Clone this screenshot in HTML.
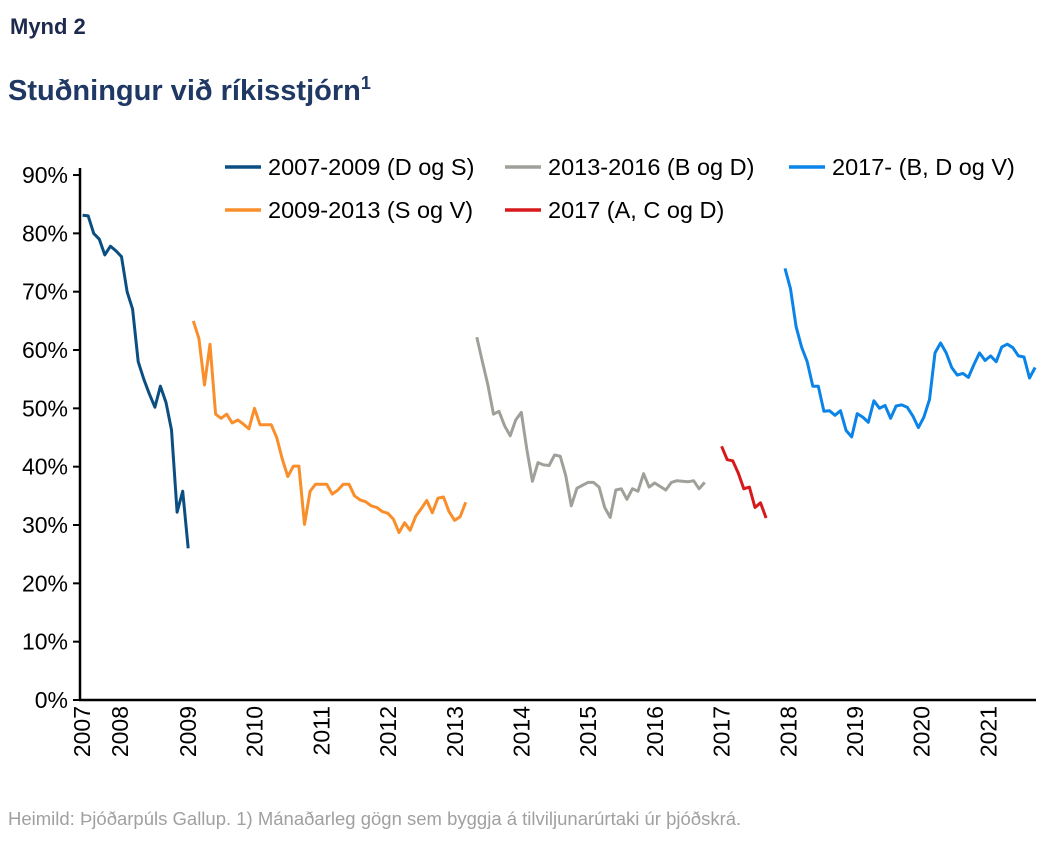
<!DOCTYPE html>
<html><head><meta charset="utf-8"><style>
body{margin:0;background:#fff;font-family:"Liberation Sans",sans-serif}
svg text{font-family:"Liberation Sans",sans-serif}
</style></head><body>
<svg id="chart" width="1052" height="840" xmlns="http://www.w3.org/2000/svg">
<text x="10" y="34" font-size="22" font-weight="bold" fill="#1d2a4d">Mynd 2</text>
<text x="8" y="100" font-size="29" font-weight="bold" fill="#1f3864">Stuðningur við ríkisstjórn<tspan font-size="18" dy="-11">1</tspan></text>
<text x="8" y="825" font-size="18.5" fill="#a0a0a0">Heimild: Þjóðarpúls Gallup. 1) Mánaðarleg gögn sem byggja á tilviljunarúrtaki úr þjóðskrá.</text>
<g id="axes"></g>
<g id="series"></g>
<g id="legend"></g>
</svg>
<script>
const yTicks=[0,10,20,30,40,50,60,70,80,90];
const years=[2007,2008,2009,2010,2011,2012,2013,2014,2015,2016,2017,2018,2019,2020,2021];
const seriesNames=["2007-2009 (D og S)","2009-2013 (S og V)","2013-2016 (B og D)","2017 (A, C og D)","2017- (B, D og V)"];
const seriesColors=["#0b4f82","#f98e2b","#a0a09a","#d7191c","#0a84e8"];
const seriesStart=[2007.42,2009.08,2013.33,2017.0,2017.95];
const s1=[83.1,83,80,79,76.3,77.8,77,76,70,67,58,55,52.5,50.2,53.8,51,46.3,32.2,35.8,26];
const s2=[65,62,54,61,49,48.3,49,47.5,48,47.3,46.5,50,47.2,47.2,47.2,45,41.3,38.3,40.1,40.1,30.1,35.8,37,37,37,35.3,36,37,37,35,34.3,34,33.3,33,32.3,32,31,28.7,30.4,29.1,31.5,32.8,34.2,32.1,34.6,34.8,32.3,30.8,31.4,33.9];
const s3=[62.2,58,54,49,49.5,47,45.3,48,49.3,43,37.5,40.7,40.3,40.2,42,41.8,38.5,33.3,36.3,36.8,37.3,37.3,36.5,33,31.3,36,36.2,34.4,36.2,35.8,38.8,36.5,37.2,36.6,36,37.3,37.6,37.5,37.4,37.6,36.2,37.3];
const s4=[43.5,41.2,41,38.9,36.2,36.5,33,33.8,31.2];
const s5=[74,70.5,64,60.5,58,53.8,53.8,49.5,49.6,48.8,49.6,46.2,45.1,49.1,48.5,47.6,51.3,50,50.5,48.3,50.4,50.6,50.2,48.7,46.7,48.5,51.5,59.5,61.2,59.5,57,55.7,56,55.3,57.5,59.5,58.2,59,58,60.5,61,60.4,59,58.8,55.2,57];
const allSeries=[s1,s2,s3,s4,s5];
const NS="http://www.w3.org/2000/svg";
function X(t){return 188+(t-2009)*66.7;}
function Y(v){return 700-v*5.833;}
function mk(tag,attrs,parent){const e=document.createElementNS(NS,tag);for(const k in attrs)e.setAttribute(k,attrs[k]);parent.appendChild(e);return e;}
const ax=document.getElementById('axes');
let l=mk('line',{x1:80,y1:168,x2:80,y2:700,stroke:'#000','stroke-width':2.5},ax);


l=mk('line',{x1:79,y1:700,x2:1036,y2:700,stroke:'#000','stroke-width':2.5},ax);


yTicks.forEach(v=>{
 const tk=mk('line',{x1:73,y1:Y(v),x2:80,y2:Y(v),stroke:'#000','stroke-width':2},ax);
 
 
 const t=mk('text',{x:68,y:Y(v)+8,'font-size':23,'text-anchor':'end',fill:'#000'},ax);
 t.textContent=v+'%';
 
 
});
years.forEach((yr,i)=>{
 const cx=i===0?82:(i===1?120:X(yr));
 const t=mk('text',{x:0,y:0,'font-size':23,'text-anchor':'end',fill:'#000',transform:`translate(${cx+8},706) rotate(-90)`},ax);
 t.textContent=yr;
 
 
});
const sg=document.getElementById('series');
allSeries.forEach((s,i)=>{
 const pts=s.map((v,j)=>X(seriesStart[i]+j/12).toFixed(1)+','+Y(v).toFixed(1)).join(' ');
 const p=mk('polyline',{points:pts,fill:'none',stroke:seriesColors[i],'stroke-width':3,'stroke-linejoin':'round'},sg);
 
 
});
const lg=document.getElementById('legend');
const legPos=[[225,167],[225,210],[505,167],[505,210],[789,167]];
seriesNames.forEach((n,i)=>{
 const [x,y]=legPos[i];
 const g=mk('g',{},lg);
 
 
 mk('line',{x1:x,y1:y,x2:x+36,y2:y,stroke:seriesColors[i],'stroke-width':3.5},g);
 const t=mk('text',{x:x+43,y:y+8,'font-size':23.5,fill:'#000'},g);
 t.textContent=n;
});
</script>
</body></html>
